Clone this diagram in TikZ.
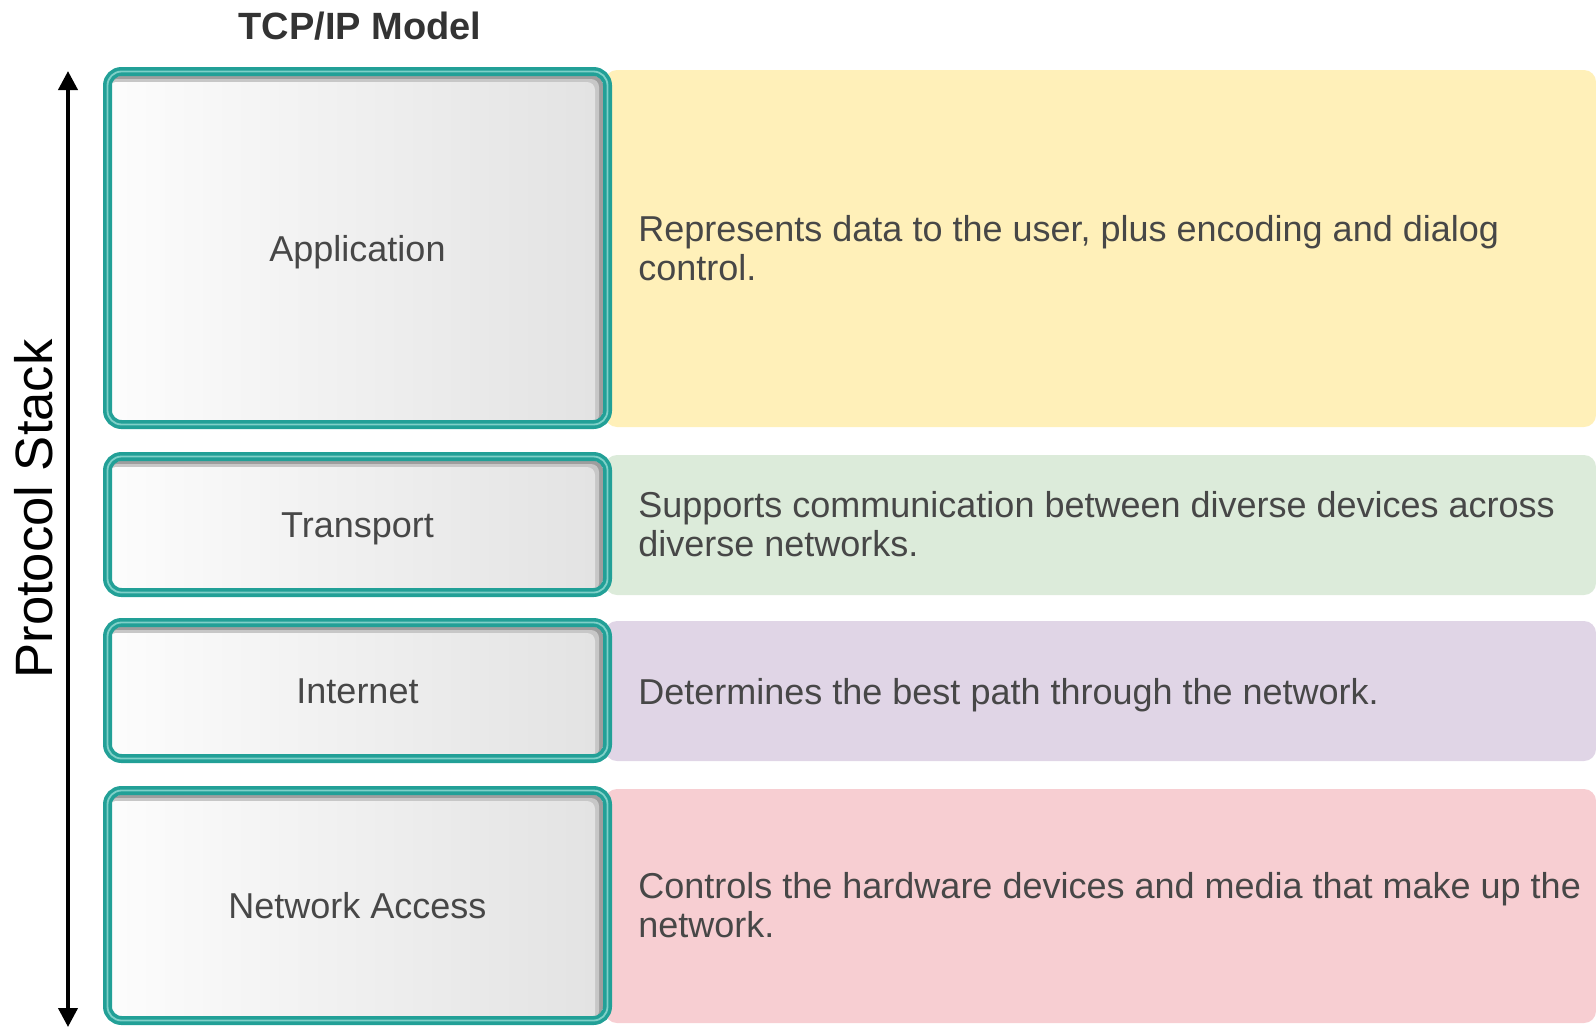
\documentclass[tikz,border=0pt]{standalone}
\usepackage{fontspec}
\setmainfont{Liberation Sans}
\usetikzlibrary{arrows.meta}

\definecolor{tealdark}{HTML}{22A097}
\definecolor{teallight}{HTML}{7FD0C8}
\definecolor{labelgray}{HTML}{474747}
\definecolor{titlegray}{HTML}{333333}
\definecolor{appyellow}{HTML}{FFF0B9}
\definecolor{transgreen}{HTML}{DCEBDA}
\definecolor{netpurple}{HTML}{E0D5E6}
\definecolor{accesspink}{HTML}{F7CED2}

\tikzset{
  panel/.style={fill=#1, rounded corners=6pt},
  frame/.style={draw=tealdark, line width=4.5pt, rounded corners=7pt},
  framestripe/.style={draw=teallight, line width=0.9pt, rounded corners=7pt},
  layerlabel/.style={text=labelgray, inner sep=0pt, anchor=base,
               font=\fontsize{18}{19.5}\selectfont},
  desc/.style={text=labelgray, inner sep=0pt, align=left, anchor=west,
               font=\fontsize{18}{19.5}\selectfont},
  stackarrow/.style={line width=2pt,
               {Triangle[width=9.5pt,length=9.5pt]}-{Triangle[width=9.5pt,length=9.5pt]}},
}

% one layer of the stack: #1 top, #2 bottom, #3 name, #4 label, #5 colour,
% #6 description, #7 vertical nudge of the description
\newcommand\stacklayer[7]{%
  \fill[panel=#5] (605,#1+3) rectangle (1596,#2-2);
  \begin{scope}
    \clip[rounded corners=4pt] (112,#1+9) rectangle (603,#2-9);
    \fill[black!38] (112,#1+9) rectangle (603,#2-9);
    \fill[black!22, rounded corners=4pt] (109,#1+12) rectangle (599,#2-6);
    \shade[left color=black!1, right color=black!11, rounded corners=4pt]
      (108,#1+15) rectangle (595,#2-3);
  \end{scope}
  \draw[frame] (107.5,#1+4.5) rectangle (607.5,#2-4.5);
  \draw[framestripe] (107.5,#1+4.5) rectangle (607.5,#2-4.5);
  \node[layerlabel] (#3) at (357.5,{(#1+#2)/2+13}) {#4};
  \node[desc] (#3-desc) at (638,{(#1+#2)/2+#7}) {#6};
}

\begin{document}
\begin{tikzpicture}[x=0.5pt, y=-0.5pt]
  \useasboundingbox (0,0) rectangle (1596,1028);

  \node[font=\bfseries\fontsize{19}{22}\selectfont, text=titlegray] (title) at (360,26) {TCP/IP Model};

  \stacklayer{67}{429}{app}{Application}{appyellow}%
    {Represents data to the user, plus encoding and dialog\\control.}{0}
  \stacklayer{452}{597}{transport}{Transport}{transgreen}%
    {Supports communication between diverse devices across\\diverse networks.}{0}
  \stacklayer{618}{763}{internet}{Internet}{netpurple}%
    {Determines the best path through the network.}{5}
  \stacklayer{786}{1025}{access}{Network Access}{accesspink}%
    {Controls the hardware devices and media that make up the\\network.}{0}

  % vertical extent of the protocol stack
  \coordinate (stacktop) at (68,71);
  \coordinate (stackbottom) at (68,1027);
  \draw[stackarrow] (stackbottom) -- (stacktop);
  \node[rotate=90, font=\fontsize{26.3}{30}\selectfont] (stacklabel) at (34,509) {Protocol Stack};
\end{tikzpicture}
\end{document}
